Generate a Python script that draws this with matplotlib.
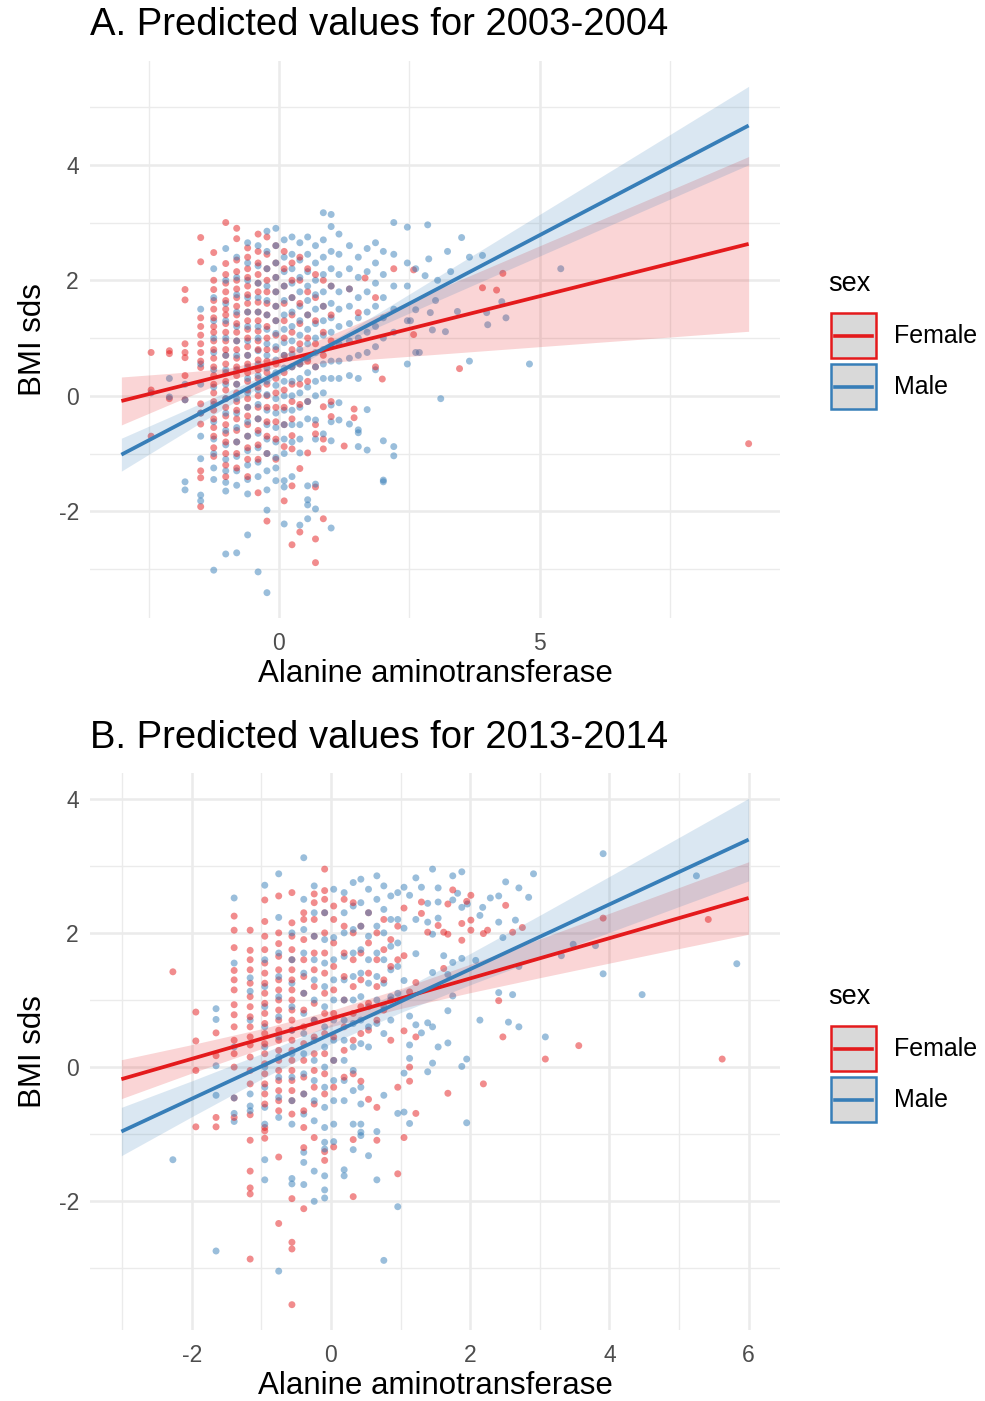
import numpy as np
import matplotlib
matplotlib.use("Agg")
import matplotlib.pyplot as plt
from matplotlib.patches import Rectangle
from matplotlib.lines import Line2D

plt.rcParams['font.family'] = ['Liberation Sans', 'DejaVu Sans']
plt.rcParams['axes.unicode_minus'] = False

FEMALE = '#E41A1C'
MALE = '#377EB8'

# ---------------- panel A : 2003-2004 ----------------
a_female_cols = [-2.45, -2.1, -1.8, -1.5, -1.25, -1.02, -0.81, -0.6, -0.4, -0.23,
                 -0.06, 0.1, 0.25, 0.4, 0.55, 0.7, 0.85, 1.0]
a_female_vals = [
    [0.75, 0.1, -0.7],
    [0.78, 0.73, -0.05],
    [1.84, 1.66, 0.9, 0.75, 0.66, 0.35, -0.07],
    [2.74, 2.32, 1.35, 1.2, 1.05, 0.9, 0.75, 0.6, 0.49, -0.14, -0.3, -0.49, -1.3, -1.42, -1.92],
    [2.48, 2.0, 1.84, 1.65, 1.5, 1.35, 1.2, 1.1, 0.95, 0.8, 0.65, 0.5, 0.35, 0.2, 0.05, -0.1,
     -0.25, -0.4, -0.55, -0.7, -0.9, -1.05],
    [3.0, 2.29, 2.1, 1.95, 1.8, 1.65, 1.5, 1.4, 1.25, 1.1, 0.95, 0.8, 0.7, 0.55, 0.4, 0.25,
     0.1, -0.05, -0.2, -0.35, -0.5, -0.65, -0.8, -1.0, -1.2, -1.4],
    [2.9, 2.72, 2.35, 2.15, 2.0, 1.85, 1.7, 1.55, 1.4, 1.25, 1.1, 0.95, 0.8, 0.65, 0.5, 0.35,
     0.2, 0.05, -0.1, -0.25, -0.4, -0.6, -0.8, -1.0, -1.25],
    [2.56, 2.4, 2.2, 2.05, 1.9, 1.75, 1.6, 1.45, 1.3, 1.15, 1.0, 0.85, 0.7, 0.55, 0.4, 0.25,
     0.1, -0.05, -0.2, -0.35, -0.5, -0.7, -0.9, -1.1, -1.4],
    [2.8, 2.5, 2.3, 2.1, 1.95, 1.8, 1.62, 1.45, 1.3, 1.12, 0.95, 0.8, 0.62, 0.45, 0.3, 0.15,
     0.0, -0.2, -0.4, -0.6, -0.85, -1.1, -1.68],
    [2.75, 2.45, 2.2, 2.0, 1.8, 1.6, 1.4, 1.2, 1.0, 0.8, 0.6, 0.4, 0.2, 0.0, -0.2, -0.45,
     -0.7, -1.0, -2.17],
    [2.6, 2.3, 2.05, 1.8, 1.55, 1.3, 1.05, 0.8, 0.55, 0.3, 0.05, -0.2, -0.45, -0.75, -1.1],
    [2.5, 2.2, 1.9, 1.6, 1.3, 1.0, 0.7, 0.4, 0.1, -0.2, -0.5, -0.88, -1.82],
    [2.3, 2.0, 1.7, 1.4, 1.1, 0.8, 0.5, 0.2, -0.1, -0.4, -0.69, -0.92, -1.56, -2.58],
    [2.4, 2.0, 1.6, 1.25, 0.9, 0.55, 0.2, -0.15, -1.26, -2.36],
    [2.2, 1.8, 1.4, 1.0, 0.6, 0.25, -0.1, -0.99],
    [2.1, 1.7, 1.3, 0.9, 0.5, -0.5, -0.66, -1.58, -2.48, -2.89],
    [2.0, 1.55, 1.1, 0.7, -0.19, -0.75, -0.92, -2.13],
    [1.9, 1.4, 0.95, -0.1, -0.36],
]
a_female_ex_x = [1.25, 1.35, 1.44, 1.44, 1.52, 1.65, 1.85, 1.85, 1.98, 2.2, 2.58, 2.58,
                 3.46, 3.9, 4.17, 4.29, 9.0]
a_female_ex_y = [-0.87, 1.85, -0.23, -0.38, 1.44, 2.04, 1.7, 0.5, 0.29, 2.2, 2.18, 1.06,
                 0.47, 1.87, 1.83, 2.12, -0.83]

a_male_cols = [-2.45, -2.1, -1.8, -1.5, -1.25, -1.02, -0.81, -0.6, -0.4, -0.23,
               -0.06, 0.1, 0.25, 0.4, 0.55, 0.7, 0.85, 1.0,
               1.15, 1.35, 1.52, 1.69, 1.85, 2.0, 2.2, 2.46, 2.62]
a_male_vals = [
    [0.05],
    [-0.02, 0.3],
    [0.2, -0.07, -1.49, -1.63],
    [1.5, 0.55, 0.2, -0.3, -0.7, -1.09, -1.72, -1.82],
    [2.2, 1.7, 1.3, 1.0, 0.75, 0.45, 0.15, -0.15, -0.45, -0.75, -1.0, -1.25, -1.45, -3.02],
    [2.55, 2.0, 1.6, 1.3, 1.0, 0.7, 0.45, 0.2, -0.05, -0.3, -0.6, -0.85, -1.1, -1.3, -1.5,
     -1.65, -2.74],
    [2.4, 2.05, 1.75, 1.45, 1.2, 0.95, 0.7, 0.45, 0.2, -0.05, -0.3, -0.55, -0.8, -1.05, -1.3,
     -1.55, -2.72],
    [2.65, 2.3, 2.0, 1.7, 1.45, 1.2, 0.95, 0.7, 0.5, 0.3, 0.05, -0.2, -0.45, -0.7, -0.95,
     -1.2, -1.45, -1.7, -2.41],
    [2.6, 2.25, 1.95, 1.7, 1.45, 1.2, 1.0, 0.78, 0.55, 0.35, 0.1, -0.15, -0.4, -0.65, -0.9,
     -1.15, -1.4, -3.05],
    [2.85, 2.5, 2.2, 1.9, 1.65, 1.4, 1.15, 0.9, 0.7, 0.48, 0.25, 0.02, -0.25, -0.5, -0.75,
     -1.0, -1.3, -1.63, -1.98, -3.41],
    [2.9, 2.6, 2.3, 2.05, 1.8, 1.55, 1.3, 1.08, 0.85, 0.62, 0.4, 0.18, -0.05, -0.3, -0.55,
     -0.8, -1.07, -1.25, -1.47],
    [2.7, 2.4, 2.15, 1.9, 1.65, 1.4, 1.15, 0.92, 0.7, 0.48, 0.25, 0.0, -0.25, -0.5, -0.75,
     -1.0, -1.47, -1.58, -2.22],
    [2.75, 2.45, 2.2, 1.95, 1.7, 1.45, 1.2, 0.95, 0.72, 0.5, 0.25, 0.0, -0.25, -0.5, -0.8, -1.4],
    [2.65, 2.35, 2.05, 1.8, 1.55, 1.3, 1.05, 0.8, 0.55, 0.3, 0.05, -0.2, -0.5, -0.75, -0.99, -2.24],
    [2.75, 2.45, 2.15, 1.9, 1.65, 1.4, 1.15, 0.9, 0.65, 0.4, 0.15, -0.1, -0.4, -1.56, -1.8,
     -1.89, -2.13],
    [2.6, 2.3, 2.0, 1.75, 1.5, 1.25, 1.0, 0.75, 0.5, 0.25, 0.0, -0.42, -0.75, -1.53, -1.96],
    [3.17, 2.7, 2.4, 2.1, 1.8, 1.55, 1.3, 1.05, 0.8, 0.55, 0.3, 0.05, -0.66],
    [3.14, 2.93, 2.5, 2.2, 1.9, 1.6, 1.35, 1.1, 0.85, 0.6, 0.3, -0.16, -0.45, -0.78, -2.29],
    [2.8, 2.45, 2.1, 1.8, 1.5, 1.2, 0.9, 0.6, 0.3, -0.12, -0.42],
    [2.6, 2.2, 1.85, 1.55, 1.25, 0.95, 0.65, 0.35, -0.49],
    [2.4, 2.05, 1.7, 1.35, 1.0, 0.7, 0.3, -0.59, -0.64, -0.88],
    [2.55, 2.15, 1.8, 1.45, 1.1, 0.75, -0.24, -0.94],
    [2.65, 2.3, 1.95, 1.55, 1.2, 0.85, 0.45],
    [2.5, 2.1, 1.7, 1.35, 1.0, -0.78, -1.46, -1.49],
    [3.0, 2.45, 1.9, 1.5, 1.1, -0.88, -1.04],
    [2.92, 2.3, 1.9, 1.3, 0.55],
    [2.2, 1.49, 0.75],
]
a_male_ex_x = [2.85, 2.87, 2.8, 2.9, 2.94, 3.0, 3.04, 3.1, 3.19, 3.23, 3.29, 3.42, 3.5,
               3.65, 3.65, 3.9, 3.98, 4.0, 4.27, 4.35, 4.8, 5.4, 2.69, 2.52]
a_male_ex_y = [2.96, 2.37, 2.08, 1.44, 1.14, 1.65, 2.0, -0.05, 1.11, 2.5, 2.15, 1.46, 2.74,
               2.4, 0.6, 2.43, 1.44, 1.23, 1.63, 1.35, 0.55, 2.2, 0.75, 1.3]

# fitted lines (ends) and confidence bands
a_line_x = [-3.02, 9.0]
a_female_line = [-0.09, 2.63]
a_male_line = [-1.02, 4.68]
a_band_x = [-3.02, -2, -1, 0, 1, 2, 3, 4, 5, 6, 7, 8, 9.0]
a_female_lo = [-0.505, -0.114, 0.263, 0.503, 0.581, 0.650, 0.717, 0.784, 0.851, 0.918, 0.984, 1.052, 1.117]
a_female_hi = [0.325, 0.394, 0.471, 0.683, 1.057, 1.442, 1.827, 2.212, 2.599, 2.984, 3.370, 3.756, 4.143]
a_male_lo = [-1.305, -0.741, -0.190, 0.352, 0.827, 1.233, 1.631, 2.027, 2.422, 2.817, 3.212, 3.607, 4.001]
a_male_hi = [-0.735, -0.331, 0.066, 0.472, 0.945, 1.487, 2.039, 2.591, 3.144, 3.697, 4.250, 4.805, 5.359]

# ---------------- panel B : 2013-2014 ----------------
b_female_cols = [-2.27, -1.94, -1.65, -1.39, -1.16, -0.95, -0.75, -0.56, -0.39, -0.24,
                 -0.09, 0.04, 0.19, 0.32, 0.43, 0.54, 0.66, 0.76, 0.86, 0.96]
b_female_vals = [
    [1.42],
    [0.82, 0.39, -0.05, -0.89],
    [0.51, 0.17, -0.75, -0.89],
    [2.25, 2.04, 1.78, 1.44, 1.3, 1.15, 0.93, 0.78, 0.6, 0.4, 0.2, 0.0, -0.46, -0.75],
    [2.04, 1.74, 1.6, 1.45, 1.25, 1.05, 0.9, 0.75, 0.6, 0.45, 0.33, 0.15, -0.05, -0.25,
     -0.71, -1.09, -1.55, -1.8, -1.89, -2.86],
    [2.49, 2.17, 1.95, 1.75, 1.55, 1.4, 1.25, 1.1, 0.95, 0.8, 0.65, 0.5, 0.35, 0.2, 0.05,
     -0.1, -0.25, -0.4, -0.55, -0.9, -0.95, -1.06],
    [2.55, 2.0, 1.84, 1.65, 1.45, 1.3, 1.15, 1.0, 0.85, 0.7, 0.55, 0.4, 0.25, 0.1, -0.05,
     -0.2, -0.35, -0.5, -0.65, -1.34, -2.33],
    [2.6, 2.15, 1.95, 1.75, 1.6, 1.45, 1.3, 1.15, 1.0, 0.85, 0.7, 0.55, 0.4, 0.25, 0.1,
     -0.05, -0.2, -0.35, -0.5, -0.7, -1.96, -2.61, -2.71, -3.54],
    [2.3, 2.2, 1.9, 1.6, 1.35, 1.1, 0.85, 0.6, 0.35, 0.1, -0.15, -0.4, -0.65, -0.9, -1.2, -2.11],
    [2.58, 2.45, 2.2, 1.95, 1.7, 1.45, 1.2, 0.95, 0.7, 0.45, 0.2, -0.05, -0.3, -0.55, -1.05],
    [2.95, 2.63, 2.5, 2.3, 2.0, 1.7, 1.4, 1.1, 0.8, 0.5, 0.2, -0.1, -0.4, -1.26, -1.39],
    [2.4, 2.2, 1.85, 1.5, 1.15, 0.8, 0.45, 0.1, -0.3, -1.19],
    [2.5, 2.1, 1.7, 1.35, 1.0, 0.6, 0.25, -0.15],
    [2.45, 2.0, 1.6, 1.2, 0.8, 0.4, -0.1, -1.08, -1.93],
    [2.1, 1.7, 1.3, 0.9, 0.5, -0.21],
    [2.3, 1.85, 1.4, 0.95, 0.55, -0.48],
    [2.0, 1.6, 1.2, 0.7, -0.6, -1.09],
    [2.2, 1.75, 1.3, 0.85],
    [1.9, 1.5, 1.0, 0.4],
    [2.1, 1.6, -0.3, -1.59],
]
b_female_ex_x = [1.05, 1.3, 1.3, 1.75, 1.68, 1.95, 2.01, 1.88, 2.01, 2.01, 1.54, 1.39, 1.62,
                 1.68, 1.88, 2.19, 2.25, 2.51, 2.61, 2.75, 1.05, 1.62, 1.22, 1.13, 2.41, 2.47,
                 3.91, 5.42, 5.62, 3.08, 3.56, 2.19, 1.05, 1.22, 1.13, 1.13, 1.68, 1.22, 1.05]
b_female_ex_y = [2.37, 2.46, 2.29, 2.64, 2.43, 2.47, 2.56, 2.14, 2.19, 2.04, 2.11, 2.01, 2.01,
                 1.98, 1.89, 1.99, 2.04, 2.41, 2.01, 2.08, 1.66, 1.47, 1.26, 1.12, 0.99, 0.45,
                 2.22, 2.2, 0.12, 0.12, 0.32, -0.25, 0.54, 0.45, 0.0, -0.21, -0.39, -0.69, -1.05]

b_male_cols = [-2.27, -1.65, -1.39, -1.16, -0.95, -0.75, -0.56, -0.39, -0.24, -0.09,
               0.04, 0.19, 0.32, 0.43, 0.54, 0.66, 0.76, 0.86, 0.96]
b_male_vals = [
    [-1.38],
    [0.87, 0.71, 0.02, -0.42, -2.74],
    [2.52, 1.55, 0.3, -0.46, -0.69, -0.81],
    [1.33, 1.13, 0.7, -0.4, -0.58, -0.65],
    [2.71, 1.6, 1.2, 0.9, 0.6, 0.3, 0.0, -0.3, -0.6, -0.85, -1.38, -1.68],
    [2.88, 2.23, 1.7, 1.35, 1.05, 0.75, 0.45, 0.15, -0.15, -0.45, -0.75, -3.04],
    [2.0, 1.6, 1.25, 0.9, 0.55, 0.2, -0.15, -0.5, -0.85, -1.66, -1.74],
    [3.12, 2.5, 2.05, 1.7, 1.4, 1.1, 0.8, 0.5, 0.2, -0.1, -0.4, -0.7, -1.27, -1.42, -1.75],
    [2.7, 2.3, 1.95, 1.6, 1.3, 1.0, 0.7, 0.4, 0.1, -0.2, -0.5, -0.8, -1.55, -2.0],
    [2.3, 1.9, 1.55, 1.2, 0.9, 0.6, 0.3, 0.0, -0.3, -0.6, -0.9, -1.12, -1.22, -1.62, -1.83, -1.95],
    [2.65, 1.93, 1.6, 1.3, 1.0, 0.7, 0.4, 0.1, -0.2, -0.5, -0.85, -1.11],
    [2.6, 2.3, 2.0, 1.65, 1.3, 1.0, 0.7, 0.4, 0.1, -0.2, -0.5, -1.53, -1.62],
    [2.75, 2.4, 2.05, 1.7, 1.35, 1.0, 0.65, 0.3, -0.05, -0.35, -0.85, -1.23],
    [2.8, 2.45, 2.1, 1.75, 1.4, 1.05, 0.7, 0.35, -0.3, -0.55, -0.85, -0.97, -1.02],
    [2.65, 2.3, 1.95, 1.6, 1.25, 0.9, 0.6, 0.3, -1.32],
    [2.85, 2.5, 2.1, 1.7, 1.35, 1.0, 0.65, -0.96, -1.68],
    [2.7, 2.35, 2.0, 1.6, 1.25, 0.9, 0.5, -0.42, -2.88],
    [2.55, 2.2, 1.8, 1.45, 1.05, 0.7],
    [2.6, 2.2, 1.85, 1.5, 1.1, -0.69, -2.08],
]
b_male_ex_x = [3.91, 5.25, 5.83, 3.91, 4.47, 3.48, 3.8, 3.31, 3.08, 2.91, 2.7, 2.84, 2.51,
               2.41, 2.29, 2.18, 2.14, 2.41, 2.47, 2.65, 2.7, 2.41, 2.61, 2.14, 2.55, 2.7,
               1.95, 1.88, 1.95, 2.08, 1.88, 1.75, 1.68, 1.68, 1.54, 1.46, 1.39, 1.13, 1.05,
               1.13, 1.13, 1.05, 1.22, 1.3, 1.39, 1.46, 1.13, 1.68, 1.75, 1.62, 1.46, 1.22,
               1.05, 1.05, 1.22, 1.39, 1.54, 1.46, 1.54, 1.39, 1.75, 1.82, 1.88, 1.96, 1.46,
               1.22, 1.3, 1.54, 1.75, 1.88, 1.05, 1.13]
b_male_ex_y = [3.18, 2.85, 1.54, 1.39, 1.08, 1.83, 1.81, 1.66, 0.45, 2.88, 2.67, 2.53, 2.76,
               2.55, 2.52, 2.38, 2.26, 2.16, 1.93, 2.19, 1.5, 1.11, 1.08, 0.7, 0.67, 0.6,
               0.12, 0.01, -0.83, 1.59, 1.62, 1.06, 0.84, 0.36, 0.3, 0.06, -0.07, -0.84, -0.67,
               0.33, 0.13, -0.09, 0.63, 0.51, 0.66, 0.6, 0.76, 1.38, 1.56, 1.66, 1.41, 1.69,
               1.29, 2.07, 2.2, 2.16, 2.22, 1.98, 2.46, 2.44, 2.49, 2.59, 2.38, 2.43, 2.95,
               2.82, 2.68, 2.67, 2.85, 2.91, 2.68, 2.56]

b_line_x = [-3.01, 6.0]
b_female_line = [-0.18, 2.52]
b_male_line = [-0.96, 3.39]
b_band_x = [-3.01, -2, -1, 0, 1, 2, 3, 4, 5, 6.0]
b_female_lo = [-0.47, -0.089, 0.274, 0.602, 0.874, 1.109, 1.332, 1.550, 1.766, 1.98]
b_female_hi = [0.11, 0.335, 0.570, 0.842, 1.170, 1.533, 1.910, 2.292, 2.676, 3.06]
b_male_lo = [-1.32, -0.740, -0.178, 0.350, 0.812, 1.226, 1.619, 2.007, 2.392, 2.775]
b_male_hi = [-0.60, -0.206, 0.198, 0.636, 1.140, 1.692, 2.263, 2.841, 3.422, 4.005]

sex_labels = ['Female', 'Male']

W, H = 985, 1401


def flat(cols, vals, ex_x, ex_y):
    xs, ys = [], []
    for c, v in zip(cols, vals):
        xs += [c] * len(v)
        ys += v
    return np.array(xs + ex_x, float), np.array(ys + ex_y, float)


def expand(lo, hi, f=0.05):
    d = (hi - lo) * f
    return lo - d, hi + d


def draw_panel(ax, fem, mal, line_x, fline, mline, band_x, fband, mband,
               xmaj, xmin, ymaj, ymin):
    fx, fy = fem
    mx, my = mal
    # mix the two groups so neither colour sits fully on top
    x = np.concatenate([fx, mx])
    y = np.concatenate([fy, my])
    c = [FEMALE] * len(fx) + [MALE] * len(mx)
    order = np.argsort(y, kind='stable')
    ax.scatter(x[order], y[order], s=25, c=np.array(c)[order], alpha=0.5,
               linewidths=0, zorder=2)

    for (lo, hi), line, col in [(fband, fline, FEMALE), (mband, mline, MALE)]:
        ax.fill_between(band_x, lo, hi, color=col, alpha=0.18, linewidth=0, zorder=3)
        ax.plot(line_x, line, color=col, lw=2.7, zorder=4, solid_capstyle='butt')

    allx = np.concatenate([x, line_x])
    ally = np.concatenate([y, fband[0], fband[1], mband[0], mband[1]])
    ax.set_xlim(*expand(allx.min(), allx.max()))
    ax.set_ylim(*expand(ally.min(), ally.max()))

    ax.set_xticks(xmaj)
    ax.set_xticks(xmin, minor=True)
    ax.set_yticks(ymaj)
    ax.set_yticks(ymin, minor=True)
    ax.grid(True, which='major', color='#EBEBEB', lw=1.8, zorder=0)
    ax.grid(True, which='minor', color='#EBEBEB', lw=1.0, zorder=0)
    ax.set_axisbelow(True)
    for s in ax.spines.values():
        s.set_visible(False)
    ax.tick_params(which='both', length=0, labelsize=16.5, colors='#4D4D4D')
    ax.tick_params(axis='x', pad=10)
    ax.tick_params(axis='y', pad=8)
    ax.set_xlabel('Alanine aminotransferase', fontsize=22.5, labelpad=3)
    ax.set_ylabel('BMI sds', fontsize=22.5, labelpad=8)


def draw_legend(fig, dy):
    def fx(px):
        return px / W

    def fy(py):
        return 1 - (py + dy) / H

    fig.text(fx(828), fy(284), 'sex', fontsize=19.5, va='center', ha='left')
    for i, (lab, col) in enumerate(zip(sex_labels, [FEMALE, MALE])):
        top = 313 + i * 51
        fig.add_artist(Rectangle((fx(831), fy(top + 45)), 45 / W, 45 / H,
                                 transform=fig.transFigure, facecolor='#D9D9D9',
                                 edgecolor=col, lw=1.8))
        fig.add_artist(Line2D([fx(835), fx(872)], [fy(top + 22.5)] * 2,
                              transform=fig.transFigure, color=col, lw=2.6))
        fig.text(fx(894), fy(top + 23), lab, fontsize=18, va='center', ha='left')


fig = plt.figure(figsize=(W / 100, H / 100), dpi=100)
ax_a = fig.add_axes([90 / W, 1 - 618 / H, 690 / W, 557 / H])
ax_b = fig.add_axes([90 / W, 1 - 1330 / H, 690 / W, 557 / H])

draw_panel(ax_a,
           flat(a_female_cols, a_female_vals, a_female_ex_x, a_female_ex_y),
           flat(a_male_cols, a_male_vals, a_male_ex_x, a_male_ex_y),
           a_line_x, a_female_line, a_male_line, a_band_x,
           (a_female_lo, a_female_hi), (a_male_lo, a_male_hi),
           [0, 5], [-2.5, 2.5, 7.5], [-2, 0, 2, 4], [-3, -1, 1, 3, 5])
draw_panel(ax_b,
           flat(b_female_cols, b_female_vals, b_female_ex_x, b_female_ex_y),
           flat(b_male_cols, b_male_vals, b_male_ex_x, b_male_ex_y),
           b_line_x, b_female_line, b_male_line, b_band_x,
           (b_female_lo, b_female_hi), (b_male_lo, b_male_hi),
           [-2, 0, 2, 4, 6], [-3, -1, 1, 3, 5], [-2, 0, 2, 4], [-3, -1, 1, 3])

fig.text(90 / W, 1 - 25 / H, 'A. Predicted values for 2003-2004', fontsize=27.5,
         va='center', ha='left')
fig.text(90 / W, 1 - 738 / H, 'B. Predicted values for 2013-2014', fontsize=27.5,
         va='center', ha='left')

draw_legend(fig, 0)
draw_legend(fig, 713)

fig.savefig('out.png', dpi=100)
